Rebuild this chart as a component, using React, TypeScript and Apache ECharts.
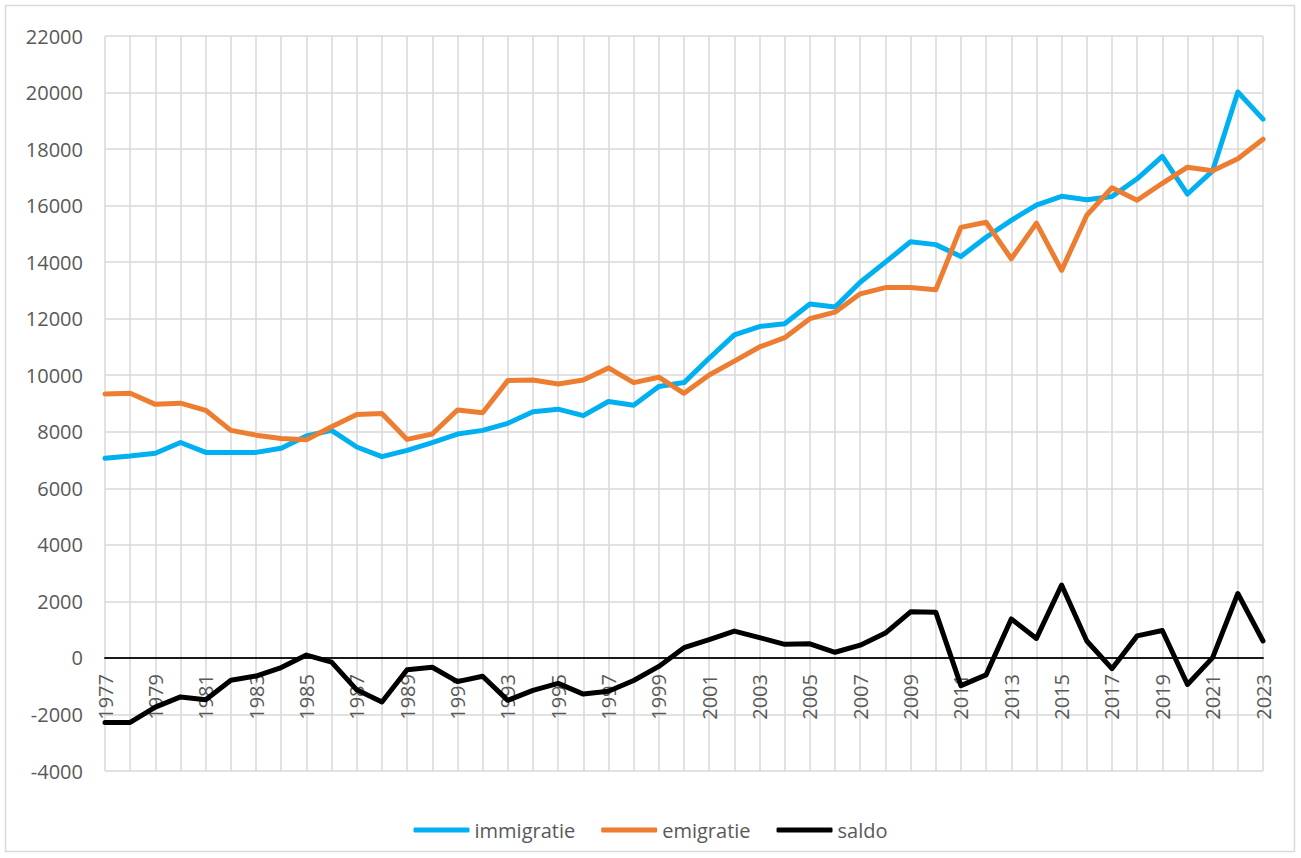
import React, { useEffect, useRef } from "react";
import * as echarts from "echarts";

const years: string[] = [
  "1977","1978","1979","1980","1981","1982","1983","1984","1985","1986",
  "1987","1988","1989","1990","1991","1992","1993","1994","1995","1996",
  "1997","1998","1999","2000","2001","2002","2003","2004","2005","2006",
  "2007","2008","2009","2010","2011","2012","2013","2014","2015","2016",
  "2017","2018","2019","2020","2021","2022","2023",
];

const immigratie: number[] = [
  7060, 7140, 7240, 7620, 7270, 7270, 7270, 7420, 7850, 8050,
  7460, 7120, 7340, 7620, 7920, 8050, 8300, 8710, 8800, 8570,
  9070, 8940, 9600, 9740, 10600, 11430, 11720, 11820, 12520, 12410,
  13290, 14000, 14720, 14620, 14200, 14880, 15480, 16020, 16330, 16210,
  16320, 16950, 17740, 16410, 17230, 20020, 19060,
];

const emigratie: number[] = [
  9340, 9360, 8970, 9010, 8760, 8050, 7880, 7760, 7720, 8180,
  8610, 8650, 7730, 7920, 8770, 8670, 9810, 9830, 9690, 9830,
  10260, 9740, 9930, 9360, 10010, 10500, 11000, 11330, 12000, 12230,
  12880, 13100, 13100, 13020, 15230, 15410, 14120, 15380, 13710, 15660,
  16630, 16190, 16790, 17360, 17230, 17660, 18350,
];

const saldo: number[] = [
  -2280, -2280, -1740, -1380, -1480, -790, -640, -340, 100, -150,
  -1130, -1560, -420, -330, -840, -650, -1500, -1150, -900, -1280,
  -1180, -800, -300, 360, 650, 950, 720, 480, 500, 200,
  450, 880, 1630, 1620, -980, -600, 1380, 690, 2580, 600,
  -380, 780, 970, -940, 10, 2280, 600,
];

const seriesNames = ["immigratie", "emigratie", "saldo"];
const seriesColors = ["#00b0f0", "#ed7d31", "#000000"];

const FONT = "'Open Sans', 'Liberation Sans', sans-serif";

export default function App() {
  const ref = useRef<HTMLDivElement>(null);

  useEffect(() => {
    if (!ref.current) return;
    const chart = echarts.init(ref.current, null, { renderer: "svg" });
    const dataSets = [immigratie, emigratie, saldo];
    chart.setOption({
      animation: false,
      backgroundColor: "#ffffff",
      graphic: [
        {
          type: "rect",
          shape: { x: 5.5, y: 5.5, width: 1289, height: 846 },
          style: { fill: "none", stroke: "#d9d9d9", lineWidth: 1.5 },
          silent: true,
        },
      ],
      grid: { left: 105, right: 38, top: 36, bottom: 87 },
      legend: {
        data: seriesNames,
        left: "center",
        top: 815,
        icon: "roundRect",
        itemWidth: 56,
        itemHeight: 5,
        itemGap: 26,
        textStyle: {
          fontFamily: FONT,
          fontSize: 20,
          color: "#595959",
        },
      },
      xAxis: {
        type: "category",
        data: years,
        boundaryGap: false,
        position: "bottom",
        offset: -113,
        axisLine: { onZero: false, lineStyle: { color: "#1a1a1a", width: 2 } },
        axisTick: { show: false },
        axisLabel: {
          interval: 1,
          rotate: 90,
          margin: 16,
          fontFamily: FONT,
          fontSize: 20,
          color: "#595959",
        },
        splitLine: {
          show: true,
          interval: 0,
          lineStyle: { color: "#d9d9d9", width: 1.5 },
        },
      },
      yAxis: {
        type: "value",
        min: -4000,
        max: 22000,
        interval: 2000,
        axisLine: { show: false },
        axisTick: { show: false },
        axisLabel: {
          margin: 22,
          fontFamily: FONT,
          fontSize: 20,
          color: "#595959",
          formatter: (v: number) => String(v),
        },
        splitLine: { show: true, lineStyle: { color: "#d9d9d9", width: 1.5 } },
      },
      series: seriesNames.map((name, i) => ({
        name,
        type: "line",
        data: dataSets[i],
        symbol: "none",
        color: seriesColors[i],
        lineStyle: { color: seriesColors[i], width: 5, cap: "round", join: "round" },
      })),
    });
    return () => chart.dispose();
  }, []);

  return (
    <div
      ref={ref}
      style={{ position: "absolute", left: 0, top: 0, width: 1301, height: 858 }}
    />
  );
}
